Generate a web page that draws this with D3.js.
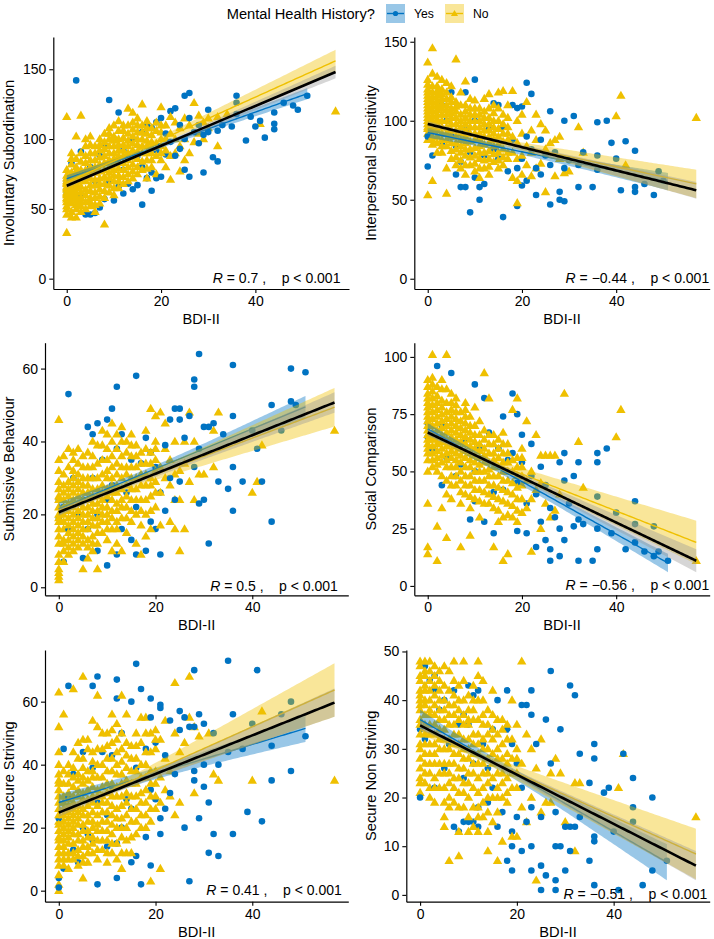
<!DOCTYPE html>
<html>
<head>
<meta charset="utf-8">
<script src="https://cdn.jsdelivr.net/npm/d3@7"></script>
<style>
  body { margin: 0; background: #fff; }
  svg text { font-family: "Liberation Sans", Arial, sans-serif; fill: #000; }
</style>
</head>
<body>
<div id="chart"></div>
<script>
// ---- data ----
const bdiTicks = [0, 20, 40]
const bdiLimits = [-2.85, 59.85]
const yTitles = ['Involuntary Subordination', 'Interpersonal Sensitivity', 'Submissive Behaviour',
  'Social Comparison', 'Insecure Striving', 'Secure Non Striving']
const yTicks = [[0, 50, 100, 150], [0, 50, 100, 150], [0, 20, 40, 60],
  [0, 25, 50, 75, 100], [0, 20, 40, 60], [0, 10, 20, 30, 40, 50]]
const yLimits = [[-7.4, 173.1], [-6.5, 153], [-2.2, 67.1], [-4.1, 106.2], [-3.5, 76.4], [-1.4, 50.3]]
const rValues = ['0.7', '\u22120.44', '0.5', '\u22120.56', '0.41', '\u22120.51']
const pText = 'p < 0.001'
const groups = ['Yes', 'No']

// fitted lines: [x0, y0, x1, y1, xMean, halfWidthAtMean, halfWidthAtEnd]
const fitAll = [[0, 66.6, 57, 148, 11, 1.3, 4.5], [0, 98, 57, 56, 11, 1.2, 5.3], [0, 20.6, 57, 50.7, 11, 0.7, 2.8],
  [0, 67, 57, 11, 11, 1, 5], [0, 24.8, 57, 59.7, 11, 0.9, 4.5], [0, 34.8, 57, 6, 11, 0.5, 3]]
const fitYes = [[0, 71.5, 51, 132.5, 17, 1.8, 4], [0, 92.5, 51, 61.5, 17, 2, 5.5], [0, 21.5, 51, 49.5, 17, 1, 3],
  [0, 68.5, 51, 10, 17, 1.8, 4], [0, 28, 51, 51.5, 17, 1.8, 4.3], [0, 36, 51, 6.7, 17, 1, 3.7]]
const fitNo = [[0, 69, 57, 156, 8, 1.5, 8], [0, 96.5, 57, 60, 8, 1.4, 9], [0, 21, 57, 49.4, 8, 0.9, 5.3],
  [0, 65, 57, 19, 8, 1.2, 9.5], [0, 24.5, 57, 63.7, 8, 1.1, 8.5], [0, 34, 57, 8.4, 8, 0.7, 5.2]]

// Yes group: [BDI-II, score]
const isYes = [[0,62],[0,70],[1,83],[1,66],[2,142],[2,75],[3,91],[3,60],[4,46],[5,46],[5,80],[6,47],[6,70],[7,51],[7,88],
  [8,57],[8,96],[9,128],[9,70],[10,56],[10,82],[10,100],[11,119],[11,66],[12,61],[12,78],[12,92],[13,68],[13,86],[14,64],
  [14,100],[15,67],[15,88],[16,53],[16,80],[16,105],[17,72],[17,110],[18,63],[18,76],[18,108],[19,72],[19,92],[19,112],
  [20,73],[20,95],[20,115],[21,89],[21,104],[22,120],[22,98],[23,122],[23,88],[24,93],[24,110],[25,131],[25,78],[25,100],
  [26,133],[26,73],[26,115],[27,105],[28,97],[28,110],[29,76],[29,103],[30,121],[30,105],[31,87],[32,84],[32,106],[33,110],
  [35,109],[36,131],[36,126],[36,118],[38,99],[39,116],[40,109],[41,113],[42,101],[44,119],[44,111],[44,107],[46,126],
  [48,124],[49,121],[51,131]]
const isensYes = [[0,71],[0,90],[1,78],[2,96],[3,86],[3,110],[4,100],[5,118],[5,90],[6,66],[6,84],[7,58],[7,74],[8,58],
  [8,94],[8,118],[9,42],[9,80],[10,126],[10,64],[10,100],[11,50],[11,58],[11,88],[12,60],[12,78],[13,95],[14,82],[14,111],
  [15,110],[15,76],[16,39],[16,96],[17,68],[18,110],[18,88],[19,46],[19,108],[19,70],[20,59],[20,109],[20,76],[21,124],
  [21,90],[21,62],[22,117],[22,82],[23,53],[23,70],[24,88],[24,66],[25,78],[26,106],[26,47],[26,72],[27,80],[28,55],
  [28,50],[29,49],[29,100],[29,70],[30,75],[31,103],[32,58],[32,72],[33,80],[35,58],[36,99],[36,69],[36,78],[38,100],
  [39,86],[40,76],[41,56],[42,87],[44,81],[44,58],[44,55],[46,60],[48,53],[49,68],[50,62]]
const sbYes = [[0,19],[0,24],[1,7],[1,22],[2,53],[2,16],[3,30],[4,20],[5,8],[5,24],[6,16],[6,44],[7,30],[7,42],[8,10],
  [8,45],[8,20],[9,35],[10,6],[10,46],[10,24],[11,49],[11,28],[12,55],[12,9],[12,38],[13,42],[13,16],[14,26],[15,13],
  [15,35],[16,58],[16,9],[16,22],[17,34],[18,10],[18,41],[19,18],[19,37],[20,16],[20,33],[21,9],[21,26],[22,21],[22,39],
  [23,46],[23,30],[24,49],[24,24],[25,49],[25,29],[25,46],[26,41],[27,47],[28,57],[28,55],[28,33],[29,64],[29,23],[29,38],
  [30,24],[30,44],[31,12],[31,44],[32,45],[33,29],[34,42],[35,27],[36,61],[36,47],[36,33],[36,21],[38,29],[40,43],[41,38],
  [42,29],[44,18],[44,50],[46,43],[48,60],[48,51],[49,50],[51,59]]
const scYes = [[0,71],[0,65],[1,60],[2,96],[3,44],[3,70],[4,56],[5,93],[5,62],[6,48],[7,53],[8,64],[9,29],[9,58],[10,88],
  [10,37],[10,50],[11,61],[12,82],[12,28],[13,67],[14,23],[14,41],[15,60],[16,74],[16,42],[17,55],[18,84],[18,58],[19,75],
  [19,24],[19,45],[20,66],[20,54],[21,36],[21,23],[22,62],[22,48],[23,17],[23,40],[24,52],[24,28],[25,20],[25,44],[26,16],
  [26,11],[26,34],[27,30],[28,13],[28,25],[28,54],[29,58],[29,20],[29,46],[30,36],[31,48],[31,26],[32,54],[32,11],[32,29],
  [33,27],[35,11],[36,58],[36,54],[36,39],[36,25],[36,16],[38,60],[39,23],[40,32],[42,16],[44,37],[44,27],[44,19],[46,15],
  [48,26],[48,13],[49,15],[51,11]]
const insYes = [[0,4],[0,1],[0,23],[1,7],[1,45],[2,65],[2,30],[3,37],[3,13],[4,9],[5,44],[5,20],[6,18],[7,65],[7,39],
  [7,16],[8,68],[8,2],[8,28],[9,44],[10,24],[10,14],[11,43],[11,33],[12,67],[12,61],[12,4],[12,15],[13,50],[13,20],[14,29],
  [15,60],[15,9],[15,26],[16,72],[16,11],[16,39],[17,64],[17,2],[18,17],[18,45],[19,61],[19,8],[19,32],[19,55],[20,29],
  [20,47],[21,59],[21,58],[21,18],[21,23],[22,43],[22,26],[23,54],[23,31],[24,37],[25,57],[25,51],[26,20],[26,55],[27,3],
  [27,52],[28,70],[28,52],[28,38],[28,35],[29,23],[29,56],[30,40],[30,33],[30,53],[31,28],[31,12],[32,18],[32,50],[33,11],
  [33,40],[35,73],[35,44],[36,56],[36,18],[38,45],[39,25],[40,53],[41,70],[42,22],[44,46],[44,35],[46,56],[48,38],[48,60],
  [51,49]]
const snsYes = [[0,20],[0,34],[1,47],[1,32],[2,44],[3,45],[3,42],[3,22],[4,38],[5,26],[5,40],[6,31],[7,14],[7,42],[8,13],
  [8,35],[9,15],[9,24],[9,37],[10,15],[10,43],[10,35],[11,15],[11,41],[11,27],[12,14],[12,42],[12,18],[13,31],[14,19],
  [14,26],[15,34],[15,22],[16,14],[16,40],[17,17],[18,7],[18,42],[18,34],[19,5],[19,10],[19,13],[19,31],[20,27],[20,16],
  [21,9],[21,39],[21,22],[22,39],[22,15],[23,5],[23,10],[23,42],[23,37],[23,18],[24,31],[25,1],[25,6],[25,16],[26,4],
  [26,36],[27,46],[27,27],[28,1],[28,3],[28,10],[28,17],[29,10],[29,34],[30,5],[30,14],[31,43],[31,9],[31,14],[32,41],
  [32,14],[33,29],[33,16],[35,7],[35,23],[36,31],[36,28],[36,12],[36,11],[36,2],[38,21],[39,22],[40,13],[41,1],[42,29],
  [44,24],[44,18],[44,15],[46,2],[48,20],[48,5],[51,7]]

// No group: [BDI-II, [scores]]
const isNo = [[0,[33,50,52,55,57,58,60,62,64,66,68,70,72,74,116]],[1,[44,54,58,60,65,70,76,82,90]],
  [2,[44,50,56,62,68,73,80,102]],[3,[48,52,58,66,74,84,117]],[4,[50,55,60,70,78,88,95]],[5,[52,58,63,72,80,90,102]],
  [6,[48,58,62,67,76,85,95]],[7,[54,64,72,82,92,100]],[8,[39,58,68,78,88,98,104]],[9,[62,72,80,90,100,108]],
  [10,[60,70,78,86,95,102,110]],[11,[65,74,84,92,100,113]],[12,[68,78,88,96,106,110]],[13,[70,80,90,99,110,122]],
  [14,[72,82,92,102,112,119]],[15,[75,86,96,105,115]],[16,[78,90,100,110,125]],[17,[72,85,95,104,113]],
  [18,[80,90,98,108]],[19,[75,88,97,106,112]],[20,[85,95,105,123]],[21,[80,92,100,110]],[22,[71,88,104,116]],
  [23,[90,100,112]],[24,[77,95,108]],[25,[85,100,115]],[26,[90,110]],[27,[98,126]],[28,[104,117]],[29,[100,112]],
  [30,[108,115]],[32,[95,116]],[34,[118]],[41,[111]],[57,[120]],
  [0,[46,61,65,69,78]],[1,[48,63,68,73,86]],[2,[53,59,65,70,77,86]],[3,[55,62,70,78,90]],[4,[64,74,83,100]],
  [5,[55,67,76,85,96]],[6,[53,71,80,90]],[7,[59,68,77,87,96]],[8,[63,73,83,93]],[9,[67,76,85,95,104]],
  [10,[65,74,82,90,99]],[11,[70,79,88,96,106]],[12,[73,83,92,101]],[13,[75,85,95,104]],[14,[77,87,97,107]],
  [15,[80,91,100,110]],[16,[84,95,105]],[17,[79,90,99,108]],[18,[85,94,103]],[20,[90,100,110]]]
const isensNo = [[0,[53,88,92,95,96,100,104,108,112,116,120,126,137]],[1,[62,85,90,94,100,106,112,118,146]],
  [2,[80,90,98,104,110,116,122,128]],[3,[84,92,100,108,114,120,126]],[4,[54,70,88,96,104,110,118]],
  [5,[76,86,94,102,108,115,122]],[6,[72,82,90,98,106,112,139]],[7,[70,80,88,96,104,118]],[8,[66,78,86,94,102,110,125]],
  [9,[72,82,92,100,108]],[10,[68,78,88,96,104,113]],[11,[64,76,84,92,100,108]],[12,[70,80,90,98,106,114]],
  [13,[66,76,86,94,102,117]],[14,[74,84,92,100,110]],[15,[70,80,90,100,118]],[16,[72,82,92,104,119]],
  [17,[76,88,96,110]],[18,[64,80,90,119]],[19,[48,62,76,86,100]],[20,[66,78,92,104]],[21,[72,84,112]],
  [22,[65,80,94]],[23,[70,88,104]],[24,[73,98]],[25,[55,82,94]],[26,[86]],[27,[65,88]],[28,[76,90]],[29,[67]],
  [30,[68]],[32,[96]],[33,[80]],[40,[103]],[41,[116]],[42,[72]],[57,[102]],
  [0,[98,102,106,110,114,118,123]],[1,[88,97,103,109,115,122,130]],[2,[86,94,101,107,113,119]],
  [3,[80,88,96,104,111,117]],[4,[84,92,100,107,114,124]],[5,[81,90,98,105,112]],[6,[77,86,94,102,109]],
  [7,[75,84,92,100,110]],[8,[72,82,90,98,106]],[9,[77,87,96,104,114]],[10,[73,83,92,100,108]],
  [11,[70,80,88,96,104]],[12,[75,85,94,102]],[13,[71,81,90,98,108]],[14,[79,88,96,105]],[15,[75,85,95,108]],
  [16,[77,87,98]],[17,[80,92,102]]]
const sbNo = [[0,[2,3,4,5,12,14,16,19,22,24,25,29,32,46]],[1,[7,10,13,16,20,24,28,36]],[2,[9,13,17,21,25,29,38]],
  [3,[10,14,18,22,26,30,35,37]],[4,[11,15,19,23,27,31,38]],[5,[5,12,16,20,24,28,33,36]],[6,[8,13,18,22,26,30,37]],
  [7,[10,14,19,23,27,33,40]],[8,[5,12,17,21,25,30,39]],[9,[15,20,24,28,35,43]],[10,[13,18,22,27,32,38]],
  [11,[10,16,21,26,30,36,45]],[12,[12,18,23,28,34,42]],[13,[10,19,24,30,36,44]],[14,[15,22,28,33,40]],
  [15,[18,24,30,36,42]],[16,[12,20,27,33,39]],[17,[9,17,24,31,37]],[18,[14,20,28,34,43]],[19,[16,25,30,37,49]],
  [20,[22,29,35,40,47]],[21,[17,26,33,48]],[22,[30,38,45]],[23,[18,28,35]],[24,[16,24,31,40]],[25,[10,24,32]],
  [26,[16,34,40]],[27,[29,48]],[28,[24,40]],[29,[31]],[30,[31]],[32,[33,43]],[33,[48]],[40,[26]],[41,[29]],[42,[39]],
  [57,[43]],
  [0,[7,9,18,20,27,35]],[1,[12,18,22,26,31]],[2,[11,15,19,23,27,33]],[3,[12,16,20,24,28,32]],
  [4,[13,17,21,25,29,34]],[5,[14,18,22,26,30]],[6,[11,16,20,24,28,33]],[7,[12,17,21,25,30,36]],
  [8,[15,19,23,27,34]],[9,[18,22,26,31,39]],[10,[16,20,25,30,35,42]],[11,[19,24,28,33,40]],[12,[16,21,26,31,38]],
  [13,[22,27,33,40]],[14,[19,25,31,37]],[15,[21,27,33,39]],[16,[24,30,36]],[17,[21,28,34]],[18,[24,31,38]],
  [19,[21,28,34]],[20,[26,32,38]]]
const scNo = [[0,[14,17,36,50,55,58,60,64,68,72,76,80,84,90]],[1,[52,58,64,70,76,82,88,101]],
  [2,[11,26,50,56,62,68,74,80,87]],[3,[34,54,60,66,72,78,90]],[4,[21,40,52,58,64,70,76,86,101]],
  [5,[38,48,56,62,68,74,80]],[6,[44,52,58,64,70,76,82]],[7,[17,36,46,54,60,66,72]],[8,[40,48,56,62,68,74,80]],
  [9,[22,34,44,52,58,64,70]],[10,[38,46,54,60,66,78]],[11,[30,42,50,56,62,72]],[12,[36,46,54,60,68,93]],
  [13,[40,48,54,62,82]],[14,[17,34,44,52,58,66]],[15,[28,38,48,56,64]],[16,[11,30,42,50,58,67]],
  [17,[14,36,46,54,62]],[18,[30,40,50,77]],[19,[28,38,48,56,82]],[20,[32,44,52,60]],[21,[34,46,72]],
  [22,[15,38,50]],[23,[42,66]],[24,[25,45,57]],[25,[36,57]],[26,[30,57]],[27,[33,57]],[28,[40]],[29,[84]],
  [32,[63]],[33,[43]],[40,[65]],[41,[77]],[57,[11]],
  [0,[62,66,70,74,78,82,87]],[1,[55,61,67,73,79,85,91]],[2,[53,59,65,71,77,83]],[3,[48,57,63,69,75,81,86]],
  [4,[46,55,61,67,73,80]],[5,[44,52,59,65,71,77,84]],[6,[48,55,61,67,73,79]],[7,[41,50,57,63,69,76]],
  [8,[44,52,59,65,71,77]],[9,[39,48,55,61,67,74]],[10,[42,50,57,63,70]],[11,[37,46,53,59,66]],[12,[41,50,57,64]],
  [13,[36,44,51,58,66]],[14,[39,48,55,62]],[15,[33,43,52,60]],[16,[37,46,54,62]],[17,[31,41,50,58]],
  [18,[35,45,55]],[19,[33,43,52]],[20,[38,48,56]]]
const insNo = [[0,[0,2,5,8,12,16,19,22,26,30,34,37,40,52,63]],[1,[10,14,18,22,26,30,38,56]],
  [2,[7,12,17,21,25,29,34,40]],[3,[10,15,20,24,28,33,39,64]],[4,[8,13,18,23,27,32,37,47]],
  [5,[4,11,16,21,26,31,36,42,68]],[6,[9,14,19,24,29,35,48]],[7,[12,17,22,28,33,38,44,54]],
  [8,[10,16,21,27,32,40,52,62]],[9,[13,19,25,30,36,45]],[10,[9,16,22,28,34,42,50]],[11,[12,18,24,30,38,47,56]],
  [12,[10,20,26,33,40,48]],[13,[7,17,23,30,37,45,62]],[14,[12,20,28,35,43,56]],[15,[12,22,30,38,46]],
  [16,[18,26,34,42,50]],[17,[24,31,40,55]],[18,[20,28,36,44,55]],[19,[3,22,30,38,50]],[20,[26,34,45,51]],
  [21,[7,28,36,48]],[22,[32,42,54]],[23,[30,38]],[24,[24,50,66]],[25,[28,44]],[26,[47]],[27,[55,68]],
  [28,[31,52]],[29,[49]],[31,[50]],[32,[37]],[33,[35]],[40,[35]],[42,[57]],[57,[35]],
  [0,[10,14,17,21,24,28,32,35,44]],[1,[8,12,16,20,24,28,34]],[2,[10,15,19,23,27,31,37]],
  [3,[12,18,22,26,30,36,44]],[4,[11,16,21,25,30,35,42]],[5,[9,14,19,24,29,34,39,48]],[6,[12,17,22,27,32,38,45]],
  [7,[15,20,25,30,36,41]],[8,[13,19,24,30,36,45]],[9,[16,22,28,33,40,50]],[10,[12,19,25,31,38,46]],
  [11,[15,21,27,34,42,51]],[12,[15,23,30,37,44,53]],[13,[12,20,27,34,41,50]],[14,[16,24,31,39,47]],
  [15,[17,26,34,42]],[16,[22,30,38,46]],[17,[20,28,36,47]],[18,[24,32,40,50]],[19,[26,34,44]],[20,[30,38,48]]]
const snsNo = [[0,[21,23,26,30,33,36,38,40,42,44,47,48]],[1,[25,29,33,37,40,43,46]],[2,[22,27,31,35,38,42,48]],
  [3,[19,24,29,33,37,41,45]],[4,[25,30,34,38,44]],[5,[14,16,22,27,32,36,40,47]],[6,[7,20,25,30,35,39,46]],
  [7,[19,24,29,33,37,41,48]],[8,[8,13,21,26,31,36,40]],[9,[18,23,28,32,37,44,48]],[10,[13,20,25,30,35,38]],
  [11,[14,22,27,31,36,40]],[12,[13,18,24,29,33,45,48]],[13,[16,22,27,32,37,44]],[14,[9,13,20,25,30,35]],
  [15,[15,24,29,34,42]],[16,[7,17,22,28,33]],[17,[11,20,25,31,36]],[18,[19,24,29,35]],[19,[12,22,28,40]],
  [20,[12,25,30,35]],[21,[18,27,48]],[22,[15,33]],[23,[20,30]],[24,[3,26]],[25,[17,32]],[26,[19]],[27,[19,25]],
  [28,[28]],[29,[25]],[30,[15]],[32,[9,23]],[33,[23]],[41,[22]],[42,[29]],[57,[16]],
  [0,[24,28,31,35,39,41,45]],[1,[23,27,31,35,39,42,45,48]],[2,[20,25,29,33,37,40,44,46]],
  [3,[22,27,31,35,39,43,47]],[4,[22,27,32,36,40,42,46]],[5,[19,25,30,34,38,43]],[6,[18,23,27,32,37,42]],
  [7,[22,27,31,35,39,44]],[8,[18,24,29,33,38,43]],[9,[21,26,30,35,40]],[10,[16,23,28,32,36,41]],
  [11,[18,25,29,33,38,43]],[12,[16,21,27,31,36,40]],[13,[19,25,30,35,40]],[14,[17,23,28,33,38]],
  [15,[20,27,32,37]],[16,[20,25,30,36]],[17,[23,28,34]],[18,[21,27,32]],[19,[25,32]],[20,[22,28]]]

const yesData = [isYes, isensYes, sbYes, scYes, insYes, snsYes]
const noData = [isNo, isensNo, sbNo, scNo, insNo, snsNo]

// ---- drawing ----
const W = 714
const H = 939
const blue = '#0073C2'
const gold = '#EFC000'
const fontAxis = '14.67px'

// plot areas of the six panels (2 columns x 3 rows)
const boxes = [
  { l: 53.3, r: 349, t: 37, b: 289 },
  { l: 414.3, r: 709.7, t: 37, b: 289 },
  { l: 45, r: 348.3, t: 342.7, b: 595.3 },
  { l: 414.3, r: 709.7, t: 342.7, b: 595.3 },
  { l: 45, r: 348.3, t: 650, b: 901.7 },
  { l: 406.3, r: 709.7, t: 650, b: 901.7 }
]

const svg = d3.select('#chart').append('svg')
  .attr('width', W)
  .attr('height', H)

const tri = d3.symbol().type(d3.symbolTriangle).size(38)

function expand (cols) {
  return cols.flatMap(([x, ys]) => ys.map(y => [x, y]))
}

function bandPts (f) {
  const [x0, y0, x1, y1, xm, hm, he] = f
  const slope = (y1 - y0) / (x1 - x0)
  const k = (he * he - hm * hm) / ((x1 - xm) * (x1 - xm))
  return d3.range(x0, x1 + 0.001, 0.5).map(v => {
    const c = y0 + slope * (v - x0)
    const hw = Math.sqrt(hm * hm + k * (v - xm) * (v - xm))
    return { v, c, lo: c - hw, hi: c + hw }
  })
}

boxes.forEach((box, i) => {
  const x = d3.scaleLinear().domain(bdiLimits).range([box.l, box.r])
  const y = d3.scaleLinear().domain(yLimits[i]).range([box.b, box.t])
  const g = svg.append('g')

  // points: spread the two groups evenly through the drawing order
  const yes = yesData[i]
  const no = expand(noData[i])
  const pts = yes.map((p, k) => ({ grp: 'Yes', p, o: (k + 0.5) / yes.length }))
    .concat(no.map((p, k) => ({ grp: 'No', p, o: (k + 0.25) / no.length })))
    .sort((a, b) => a.o - b.o)
  g.append('g').selectAll('.pt')
    .data(pts)
    .enter()
    .each(function (d) {
      const sel = d3.select(this)
      if (d.grp === 'Yes') {
        sel.append('circle')
          .attr('cx', x(d.p[0]))
          .attr('cy', y(d.p[1]))
          .attr('r', 3.3)
          .attr('fill', blue)
      } else {
        sel.append('path')
          .attr('d', tri)
          .attr('transform', `translate(${x(d.p[0])},${y(d.p[1]) + 0.6})`)
          .attr('fill', gold)
      }
    })

  // smooths: Yes, No, then overall
  const area = d3.area().x(d => x(d.v)).y0(d => y(d.lo)).y1(d => y(d.hi))
  const line = d3.line().x(d => x(d.v)).y(d => y(d.c))
  const fits = [[fitYes[i], blue, blue, 1.4], [fitNo[i], gold, gold, 1.4], [fitAll[i], '#999999', '#000', 2.6]]
  fits.forEach(([f, fill, stroke, lw]) => {
    const b = bandPts(f)
    g.append('path').attr('d', area(b)).attr('fill', fill).attr('fill-opacity', 0.4)
    g.append('path').attr('d', line(b)).attr('fill', 'none').attr('stroke', stroke).attr('stroke-width', lw)
  })

  // correlation label
  const lab = g.append('text')
    .attr('x', x(44.5))
    .attr('y', y(0))
    .attr('dy', '0.3em')
    .attr('text-anchor', 'middle')
    .attr('xml:space', 'preserve')
    .style('white-space', 'pre')
    .style('font-size', '14px')
  lab.append('tspan').style('font-style', 'italic').text('R')
  lab.append('tspan').text(' = ' + rValues[i] + ' ,    ' + pText)

  // axes
  const ax = g.append('g')
    .attr('transform', `translate(0,${box.b})`)
    .call(d3.axisBottom(x).tickValues(bdiTicks).tickSize(4).tickSizeOuter(0).tickPadding(3))
  const ay = g.append('g')
    .attr('transform', `translate(${box.l},0)`)
    .call(d3.axisLeft(y).tickValues(yTicks[i]).tickSize(4).tickSizeOuter(0).tickPadding(3))
  ;[ax, ay].forEach(a => {
    a.select('.domain').attr('stroke', '#000').attr('stroke-width', 1.2)
    a.selectAll('.tick line').attr('stroke', '#000').attr('stroke-width', 1.1)
    a.selectAll('.tick text').attr('fill', '#000').style('font-size', '14px')
      .style('font-family', '"Liberation Sans", Arial, sans-serif')
  })

  // axis titles
  g.append('text')
    .attr('x', (box.l + box.r) / 2)
    .attr('y', box.b + 35)
    .attr('text-anchor', 'middle')
    .style('font-size', fontAxis)
    .text('BDI-II')
  const tx = i % 2 === 0 ? 14 : 376
  g.append('text')
    .attr('transform', `translate(${tx},${(box.t + box.b) / 2}) rotate(-90)`)
    .attr('text-anchor', 'middle')
    .style('font-size', fontAxis)
    .text(yTitles[i])
})

// legend
const leg = svg.append('g')
leg.append('text')
  .attr('x', 226.7)
  .attr('y', 13.5)
  .attr('dy', '0.35em')
  .style('font-size', fontAxis)
  .text('Mental Health History?')
const keyX = [386, 445]
groups.forEach((grp, k) => {
  const col = k === 0 ? blue : gold
  const kx = keyX[k]
  leg.append('rect').attr('x', kx).attr('y', 4).attr('width', 19).attr('height', 19)
    .attr('fill', col).attr('fill-opacity', 0.4)
  leg.append('line').attr('x1', kx + 1).attr('x2', kx + 18).attr('y1', 13.5).attr('y2', 13.5)
    .attr('stroke', col).attr('stroke-width', 1.4)
  if (k === 0) {
    leg.append('circle').attr('cx', kx + 9.5).attr('cy', 13.5).attr('r', 2.6).attr('fill', col)
  } else {
    leg.append('path').attr('d', d3.symbol().type(d3.symbolTriangle).size(22))
      .attr('transform', `translate(${kx + 9.5},14)`).attr('fill', col)
  }
  leg.append('text')
    .attr('x', kx + 28)
    .attr('y', 13.5)
    .attr('dy', '0.35em')
    .style('font-size', '12.2px')
    .text(grp)
})
</script>
</body>
</html>
